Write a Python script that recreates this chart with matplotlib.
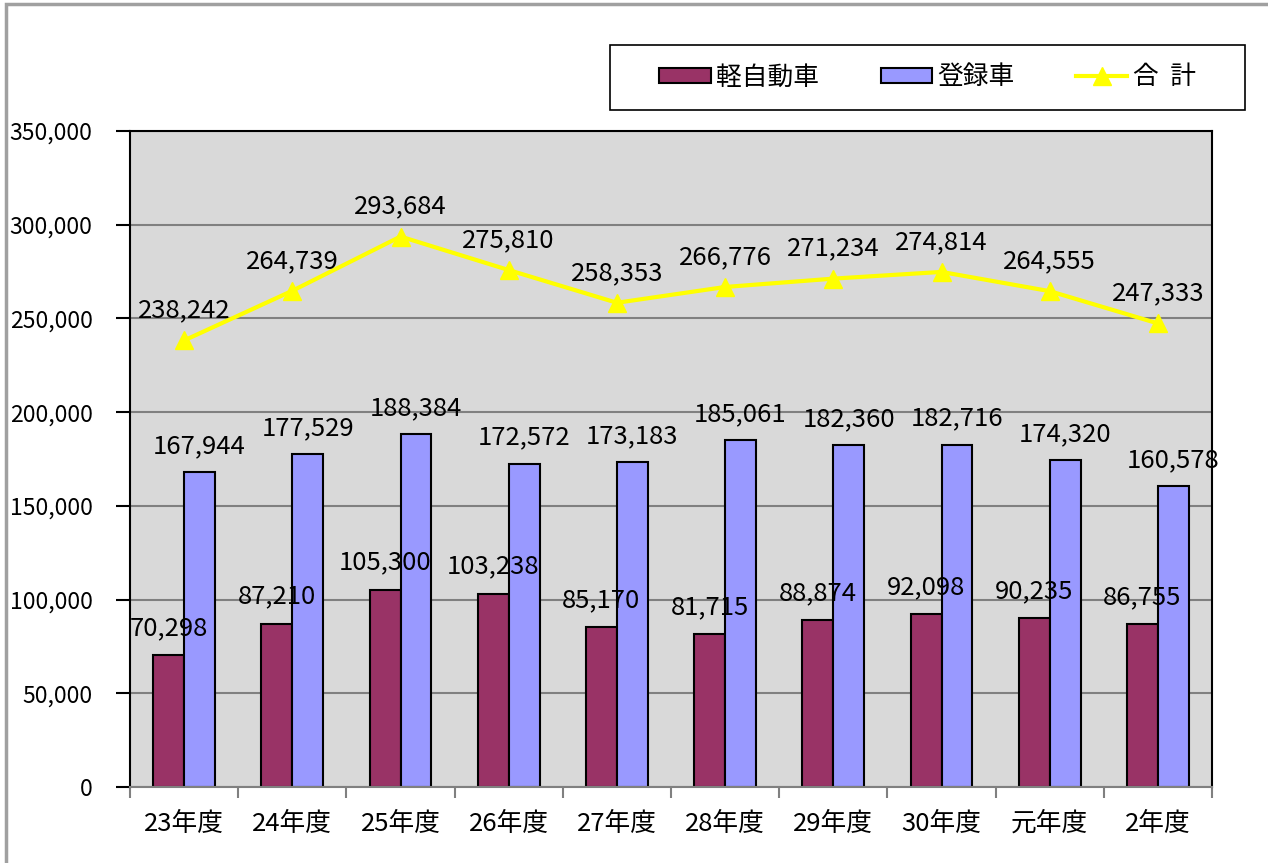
import numpy as np
import matplotlib
matplotlib.use("Agg")
import matplotlib.pyplot as plt
from matplotlib.ticker import FuncFormatter, FixedLocator
from matplotlib.patches import Rectangle

plt.rcParams['font.family'] = ['Noto Sans CJK JP', 'DejaVu Sans']

# data
years = ["23年度", "24年度", "25年度", "26年度", "27年度",
         "28年度", "29年度", "30年度", "元年度", "2年度"]
kei = [70298, 87210, 105300, 103238, 85170, 81715, 88874, 92098, 90235, 86755]
toroku = [167944, 177529, 188384, 172572, 173183, 185061, 182360, 182716, 174320, 160578]
total = [238242, 264739, 293684, 275810, 258353, 266776, 271234, 274814, 264555, 247333]

W, H = 1268, 863
fig = plt.figure(figsize=(W / 100, H / 100), dpi=100)

# outer chart frame (only top/left visible in the original)
fig.patches.append(Rectangle((6 / W, -0.1), 1.2, (H - 4) / H + 0.1, transform=fig.transFigure,
                             fill=False, edgecolor='#a0a0a0', linewidth=2.5, zorder=-5))
# legend frame
fig.patches.append(Rectangle((610 / W, 1 - 110 / H), 635 / W, 65 / H, transform=fig.transFigure,
                             fill=False, edgecolor='black', linewidth=1.2, zorder=-5))

ax = fig.add_axes([130 / W, (H - 787) / H, 1082 / W, 656 / H])
ax.set_facecolor('#d9d9d9')

x = np.arange(len(years))
bw = 0.285
fs = 18.5

b1 = ax.bar(x - bw / 2, kei, bw, color='#993366', edgecolor='black', linewidth=1.5,
            label='軽自動車', zorder=2)
b2 = ax.bar(x + bw / 2, toroku, bw, color='#9999ff', edgecolor='black', linewidth=1.5,
            label='登録車', zorder=2)
ln, = ax.plot(x, total, color='#ffff00', linewidth=3, marker='^', markersize=13,
              label='合  計', zorder=3)

def lab(xs, ys, off):
    for xi, yi in zip(xs, ys):
        ax.annotate(f"{yi:,}", (xi, yi), xytext=(0, off), textcoords='offset pixels',
                    ha='center', va='center', fontsize=fs, zorder=5)

lab(x - bw / 2, kei, 27)
lab(x + bw / 2, toroku, 26)
lab(x, total, 30)

ax.set_xlim(-0.5, len(years) - 0.5)
ax.set_ylim(0, 350000)
ax.set_yticks(np.arange(0, 350001, 50000))
ax.yaxis.set_major_formatter(FuncFormatter(lambda v, p: f"{int(v):,}"))
ax.grid(axis='y', color='#808080', linewidth=1.5, zorder=1)
ax.set_axisbelow(True)

ax.set_xticks(x)
ax.set_xticklabels(years)
ax.xaxis.set_minor_locator(FixedLocator(np.arange(-0.5, len(years), 1.0)))
ax.tick_params(axis='x', which='major', length=0, pad=17, labelsize=fs)
ax.tick_params(axis='x', which='minor', length=8, width=1.5, color='#808080', direction='out')
ax.tick_params(axis='y', length=10, width=1.5, color='black', pad=17, labelsize=16.5)

for s in ['left', 'top', 'right']:
    ax.spines[s].set_color('black')
    ax.spines[s].set_linewidth(1.5)
ax.spines['bottom'].set_color('#808080')
ax.spines['bottom'].set_linewidth(1.5)

leg = fig.legend(handles=[b1, b2, ln], loc='center',
                 bbox_to_anchor=((610 + 1245) / 2 / W, 1 - (45 + 110) / 2 / H),
                 ncol=3, fontsize=fs, frameon=False, borderpad=0,
                 handlelength=2.0, handleheight=0.55, handletextpad=0.2,
                 columnspacing=2.4, borderaxespad=0)

fig.savefig("out.png", dpi=100)
